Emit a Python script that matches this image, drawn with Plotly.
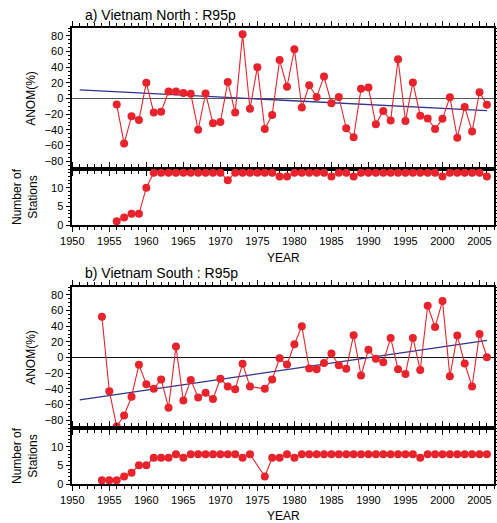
import plotly.graph_objects as go

# ---------------- data ----------------
years_n = list(range(1956, 2007))
anom_n = [-7.7, -57.6, -22.6, -27.3, 20, -18, -17, 9, 9, 7, 6, -40, 6.4, -31.6,
          -30, 21, -18, 82, -13, 40, -39, -21, 49, 15, 63, -11.5, 17, 2, 28, -6, 2, -38, -49.5,
          12.4, 14, -33, -16, -28, 50, -28.6, 20.5, -22, -25.6, -39, -26, 1.7, -50, -10.7, -42, 8, -8]
stations_n = [1, 2, 3, 3, 10,
              14, 14, 14, 14, 14, 14, 14, 14, 14, 14,
              12,
              14, 14, 14, 14, 14, 14,
              13, 13,
              14, 14, 14, 14, 14,
              13,
              14, 14,
              13,
              14, 14, 14, 14, 14, 14, 14, 14, 14, 14, 14,
              13,
              14, 14, 14, 14, 14,
              13]

years_s = [y for y in range(1954, 2007) if y != 1975]
anom_s = [52, -43, -88, -74, -50, -9.4, -34, -40, -28, -64, 14, -55, -28.6, -51, -45, -53,
          -27, -37, -40.6, -8, -37, -40, -28, -1, -9, 17, 40, -14, -15, -7, 5, -10, -14.5, 28.5,
          -23, 10, -1.7, -6, 25, -15, -21, 25, -16, 66, 39, 72, -24, 28, -7.7, -37, 30, 0.4]
stations_s = [1, 1, 1, 2, 3, 5, 5, 7, 7, 7, 8, 7,
              8, 8, 8, 8, 8, 8, 8,
              7, 8, 2, 7, 7, 8, 7,
              8, 8, 8, 8, 8, 8, 8, 8, 8, 8, 8, 8, 8, 8, 8, 8,
              7,
              8, 8, 8, 8, 8, 8, 8, 8, 8]

trend_years = [1951, 2006]
trend_n = [11, -15.4]
trend_s = [-54, 21.8]

titles = ["a) Vietnam North : R95p", "b) Vietnam South : R95p"]
x_ticks = list(range(1950, 2006, 5))

# ---------------- style ----------------
RED = "#e8232b"
BLUE = "#2c3392"
FONT = "Liberation Sans, Arial, sans-serif"
W, H = 497, 523

def fy(px):
    return 1 - px / H

xdom = [72.3 / W, 494.3 / W]
panels = {
    "anom_n": [fy(169), fy(28)],
    "stat_n": [fy(225), fy(169)],
    "anom_s": [fy(428), fy(287)],
    "stat_s": [fy(484), fy(428)],
}

fig = go.Figure()

def add_pair(idx_anom, idx_stat, years, anom, stations, trend):
    xa = "x" if idx_anom == 1 else f"x{idx_anom}"
    ya = "y" if idx_anom == 1 else f"y{idx_anom}"
    xs = f"x{idx_stat}"
    ys = f"y{idx_stat}"
    fig.add_trace(go.Scatter(x=trend_years, y=trend, mode="lines",
                             line=dict(color=BLUE, width=1.3), xaxis=xa, yaxis=ya,
                             showlegend=False, hoverinfo="skip"))
    fig.add_trace(go.Scatter(x=years, y=anom, mode="lines+markers",
                             line=dict(color=RED, width=1.1),
                             marker=dict(color=RED, size=8),
                             xaxis=xa, yaxis=ya, showlegend=False))
    fig.add_trace(go.Scatter(x=years, y=stations, mode="lines+markers",
                             line=dict(color=RED, width=1.1),
                             marker=dict(color=RED, size=8),
                             xaxis=xs, yaxis=ys, showlegend=False))

add_pair(1, 2, years_n, anom_n, stations_n, trend_n)
add_pair(3, 4, years_s, anom_s, stations_s, trend_s)

def xaxis_cfg(anchor, show_labels):
    return dict(domain=xdom, anchor=anchor, range=[1950, 2007],
                tickmode="array", tickvals=x_ticks,
                showticklabels=show_labels, ticks="outside", ticklen=5, tickwidth=1.2,
                tickcolor="black",
                minor=dict(ticks="outside", dtick=1, tick0=1950, ticklen=3, tickwidth=1,
                           tickcolor="black", showgrid=False),
                showline=True, linecolor="black", linewidth=1.6, mirror="allticks",
                showgrid=False, zeroline=False,
                tickfont=dict(family=FONT, size=11, color="black"),
                automargin=False)

def yaxis_anom(anchor, dom, zcolor):
    return dict(domain=dom, anchor=anchor, range=[-90, 90],
                tickmode="array", tickvals=list(range(-80, 81, 20)),
                ticks="outside", ticklen=5, tickwidth=1.2, tickcolor="black",
                minor=dict(ticks="outside", dtick=5, tick0=0, ticklen=3, tickwidth=1,
                           tickcolor="black", showgrid=False),
                showline=True, linecolor="black", linewidth=1.6, mirror="allticks",
                showgrid=False, zeroline=True, zerolinecolor=zcolor, zerolinewidth=1.4,
                tickfont=dict(family=FONT, size=11, color="black"),
                title=dict(text="ANOM(%)", font=dict(family=FONT, size=12, color="black"),
                           standoff=6),
                automargin=False)

def yaxis_stat(anchor, dom):
    return dict(domain=dom, anchor=anchor, range=[0, 15],
                tickmode="array", tickvals=[0, 5, 10],
                ticks="outside", ticklen=5, tickwidth=1.2, tickcolor="black",
                minor=dict(ticks="outside", dtick=1, tick0=0, ticklen=3, tickwidth=1,
                           tickcolor="black", showgrid=False),
                showline=True, linecolor="black", linewidth=1.6, mirror="allticks",
                showgrid=False, zeroline=False,
                tickfont=dict(family=FONT, size=11, color="black"),
                automargin=False)

fig.update_layout(
    width=W, height=H,
    margin=dict(l=0, r=0, t=0, b=0),
    paper_bgcolor="white", plot_bgcolor="white",
    font=dict(family=FONT, size=11, color="black"),
    xaxis=xaxis_cfg("y", False),
    yaxis=yaxis_anom("x", panels["anom_n"], "#555555"),
    xaxis2=xaxis_cfg("y2", True),
    yaxis2=yaxis_stat("x2", panels["stat_n"]),
    xaxis3=xaxis_cfg("y3", False),
    yaxis3=yaxis_anom("x3", panels["anom_s"], "#111111"),
    xaxis4=xaxis_cfg("y4", True),
    yaxis4=yaxis_stat("x4", panels["stat_s"]),
)

ann = []
for t, ypx in zip(titles, [15, 273]):
    ann.append(dict(text=t, x=83 / W, y=fy(ypx), xref="paper", yref="paper",
                    xanchor="left", yanchor="middle", showarrow=False,
                    font=dict(family=FONT, size=14, color="black")))
for ypx in [258, 516]:
    ann.append(dict(text="YEAR", x=283 / W, y=fy(ypx), xref="paper", yref="paper",
                    xanchor="center", yanchor="middle", showarrow=False,
                    font=dict(family=FONT, size=12, color="black")))
for ypx in [197, 456]:
    ann.append(dict(text="Number of<br>Stations", x=25 / W, y=fy(ypx), xref="paper",
                    yref="paper", xanchor="center", yanchor="middle", showarrow=False,
                    textangle=-90, font=dict(family=FONT, size=12, color="black")))
fig.update_layout(annotations=ann)

fig.write_html("out.html",
               config={"displayModeBar": False},
               post_script="document.body.style.margin='0px';document.body.style.overflow='hidden';")
